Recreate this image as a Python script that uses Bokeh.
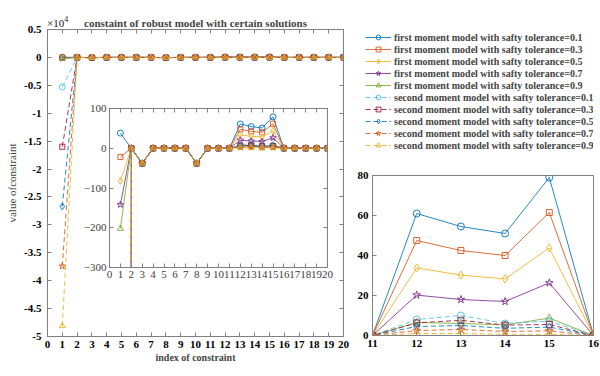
from bokeh.plotting import figure
from bokeh.models import (ColumnDataSource, Range1d, FixedTicker, LinearAxis,
                          Legend, LegendItem, GridBox, Div)
from bokeh.embed import file_html
from bokeh.resources import INLINE

# ---------------- data ----------------
idx = list(range(1, 21))
fm_01 = [38, 0, -38, 0, 0, 0, 0, -38, 0, 0, 0, 61, 54.5, 51, 79, 0, 0, 0, 0, 0]
fm_03 = [-22, 0, -38, 0, 0, 0, 0, -38, 0, 0, 0, 47.5, 42.5, 40, 61.5, 0, 0, 0, 0, 0]
fm_05 = [-82, 0, -38, 0, 0, 0, 0, -38, 0, 0, 0, 33.8, 30.2, 28.3, 43.8, 0, 0, 0, 0, 0]
fm_07 = [-142, 0, -38, 0, 0, 0, 0, -38, 0, 0, 0, 20.2, 18, 17, 26.3, 0, 0, 0, 0, 0]
fm_09 = [-202, 0, -38, 0, 0, 0, 0, -38, 0, 0, 0, 6.5, 6, 5.3, 8.7, 0, 0, 0, 0, 0]
sm_01 = [-5300, 0, -38, 0, 0, 0, 0, -38, 0, 0, 0, 8, 10, 6, 7.2, 0, 0, 0, 0, 0]
sm_03 = [-16000, 0, -38, 0, 0, 0, 0, -38, 0, 0, 0, 6.3, 7.6, 5.2, 5.5, 0, 0, 0, 0, 0]
sm_05 = [-26700, 0, -38, 0, 0, 0, 0, -38, 0, 0, 0, 4.5, 5, 3.6, 4.2, 0, 0, 0, 0, 0]
sm_07 = [-37400, 0, -38, 0, 0, 0, 0, -38, 0, 0, 0, 2.5, 3, 2, 2.3, 0, 0, 0, 0, 0]
sm_09 = [-48100, 0, -38, 0, 0, 0, 0, -38, 0, 0, 0, 1, 1, 0.6, 0.6, 0, 0, 0, 0, 0]

labels = [
    "first moment model with safty tolerance=0.1",
    "first moment model with safty tolerance=0.3",
    "first moment model with safty tolerance=0.5",
    "first moment model with safty tolerance=0.7",
    "first moment model with safty tolerance=0.9",
    "second moment model with safty tolerance=0.1",
    "second moment model with safty tolerance=0.3",
    "second moment model with safty tolerance=0.5",
    "second moment model with safty tolerance=0.7",
    "second moment model with safty tolerance=0.9",
]
values = [fm_01, fm_03, fm_05, fm_07, fm_09, sm_01, sm_03, sm_05, sm_07, sm_09]
colors = ["#0072BD", "#D95319", "#EDB120", "#7E2F8E", "#77AC30",
          "#4DBEEE", "#A2142F", "#0072BD", "#D95319", "#EDB120"]
markers = ["circle", "square", "diamond", "star", "triangle",
           "circle", "square", "diamond", "star", "triangle"]
dashes = ["solid"] * 5 + ["5 3"] * 5

main_yticks = [-50000, -45000, -40000, -35000, -30000, -25000, -20000, -15000,
               -10000, -5000, 0, 5000]
main_ytick_labels = ["-5", "-4.5", "-4", "-3.5", "-3", "-2.5", "-2", "-1.5",
                     "-1", "-0.5", "0", "0.5"]
main_xticks = list(range(0, 21))
inset_yticks = [-300, -200, -100, 0, 100]
right_xticks = [11, 12, 13, 14, 15, 16]
right_yticks = [0, 20, 40, 60, 80]

FONT = "Liberation Serif"
FRAME = "#808080"
MSCALE = {"circle": 1.0, "square": 0.85, "diamond": 1.15, "star": 1.15,
          "triangle": 1.0}
# all overlaid figures share the same borders (Bokeh aligns them in the cell)
BORDERS = dict(min_border_left=47, min_border_top=29, min_border_right=6,
               min_border_bottom=34)


def new_fig(fw, fh, xr, yr, **kw):
    f = figure(frame_width=fw, frame_height=fh, x_range=xr, y_range=yr,
               output_backend="svg", toolbar_location=None, **BORDERS, **kw)
    f.xgrid.visible = False
    f.ygrid.visible = False
    f.outline_line_color = FRAME
    f.border_fill_color = None
    return f


def add_series(fig, msize):
    items = []
    for lab, ys, c, m, d in zip(labels, values, colors, markers, dashes):
        src = ColumnDataSource(dict(x=idx, y=ys))
        lr = fig.line("x", "y", source=src, line_color=c, line_width=1,
                      line_dash=d, line_alpha=0.85)
        sr = fig.scatter("x", "y", source=src, marker=m, size=msize * MSCALE[m],
                         line_color=c, fill_color=None, line_width=1,
                         line_alpha=0.9)
        items.append(LegendItem(label=lab, renderers=[lr, sr]))
    return items


def style_axis(ax, size, bold, color, tick_color=FRAME):
    ax.major_label_text_font = FONT
    ax.major_label_text_font_size = size
    ax.major_label_text_font_style = "bold" if bold else "normal"
    ax.major_label_text_color = color
    ax.axis_line_color = tick_color
    ax.major_tick_line_color = tick_color
    ax.major_tick_in = 4
    ax.major_tick_out = 0
    ax.minor_tick_line_color = None


def box_ticks(fig, xt, yt):
    # tick marks on the top and right edges (no labels), like a boxed axes
    for ticks, place in ((xt, "above"), (yt, "right")):
        ax = LinearAxis(ticker=FixedTicker(ticks=ticks))
        style_axis(ax, "1px", False, None)
        ax.major_label_standoff = 0
        fig.add_layout(ax, place)


# ---------------- main figure ----------------
main = new_fig(296, 307, Range1d(0, 20), Range1d(-50000, 5000))
main.border_fill_color = "white"
add_series(main, 6)
main.xaxis.ticker = FixedTicker(ticks=main_xticks)
main.yaxis.ticker = FixedTicker(ticks=main_yticks)
main.yaxis.major_label_overrides = {t: l for t, l in zip(main_yticks, main_ytick_labels)}
style_axis(main.xaxis[0], "11px", True, "black")
style_axis(main.yaxis[0], "11px", True, "black")
main.xaxis.major_label_standoff = 4
main.yaxis.major_label_standoff = 6
main.xaxis.axis_label = "index of constraint"
main.xaxis.axis_label_text_font = FONT
main.xaxis.axis_label_text_font_style = "bold"
main.xaxis.axis_label_text_font_size = "10px"
main.xaxis.axis_label_standoff = 1
main.yaxis.axis_label = "value ofconstraint"
main.yaxis.axis_label_text_font = FONT
main.yaxis.axis_label_text_font_style = "normal"
main.yaxis.axis_label_text_font_size = "11px"
main.yaxis.axis_label_standoff = 3
box_ticks(main, main_xticks, main_yticks)
main.title.text = "constaint of robust model with certain solutions"
main.title.align = "center"
main.title.text_font = FONT
main.title.text_font_size = "11px"
main.title.text_font_style = "bold"
main.title.standoff = 2

# ---------------- inset ----------------
inset = new_fig(218, 159, Range1d(0, 20), Range1d(-300, 100))
inset.background_fill_color = "white"
add_series(inset, 6)
inset.xaxis.ticker = FixedTicker(ticks=main_xticks)
inset.yaxis.ticker = FixedTicker(ticks=inset_yticks)
style_axis(inset.xaxis[0], "11px", False, "#404040")
style_axis(inset.yaxis[0], "11px", False, "#404040")
inset.xaxis.major_label_standoff = 3
inset.yaxis.major_label_standoff = 3
box_ticks(inset, main_xticks, inset_yticks)
inset.margin = (79, 0, 0, 62)

# ---------------- right zoom figure ----------------
right = new_fig(221, 160, Range1d(11, 16), Range1d(0, 80))
add_series(right, 7)
right.xaxis.ticker = FixedTicker(ticks=right_xticks)
right.yaxis.ticker = FixedTicker(ticks=right_yticks)
style_axis(right.xaxis[0], "11px", True, "black")
style_axis(right.yaxis[0], "11px", True, "black")
right.xaxis.major_label_standoff = 4
right.yaxis.major_label_standoff = 4
right.margin = (146, 0, 0, 325)

# ---------------- legend holder ----------------
leg = new_fig(230, 124, Range1d(100, 101), Range1d(100, 101),
              x_axis_location=None, y_axis_location=None)
leg.outline_line_color = None
leg.background_fill_alpha = 0
items = add_series(leg, 6)
legend = Legend(items=items, location="top_left")
legend.label_text_font = FONT
legend.label_text_font_size = "10px"
legend.label_text_font_style = "bold"
legend.label_height = 12
legend.glyph_height = 12
legend.glyph_width = 26
legend.label_standoff = 3
legend.spacing = 0
legend.padding = 2
legend.margin = 0
legend.border_line_alpha = 0
legend.background_fill_alpha = 0
leg.add_layout(legend)
leg.margin = (0, 0, 0, 316)

# ---------------- x10^4 multiplier ----------------
mult = Div(text="&times;10<sup style='font-size:8px'>4</sup>",
           styles={"font-family": FONT, "font-size": "11px", "color": "#222222",
                   "line-height": "12px"})
mult.margin = (14, 0, 0, 47)

main.margin = (0, 0, 0, 0)
grid = GridBox(children=[(main, 0, 0), (inset, 0, 0), (right, 0, 0),
                         (leg, 0, 0), (mult, 0, 0)])

open("out.html", "w").write(file_html(grid, INLINE))
